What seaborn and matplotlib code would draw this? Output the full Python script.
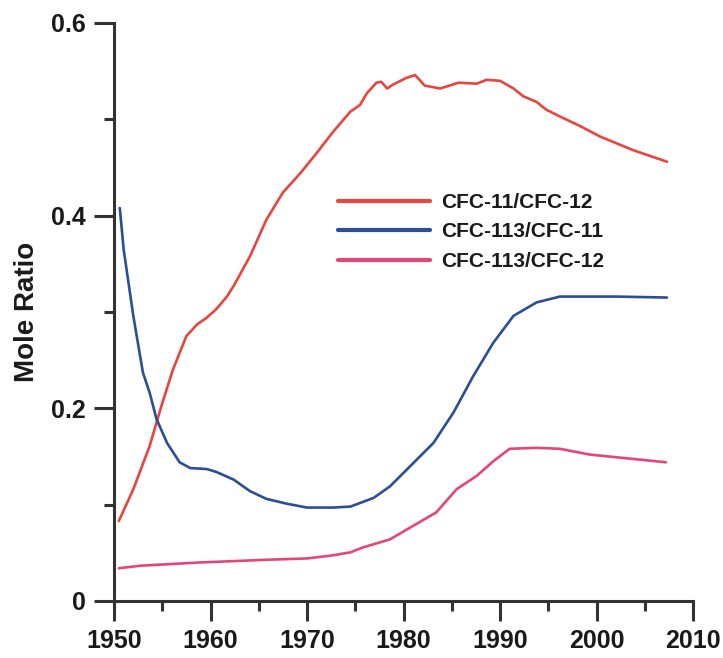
import matplotlib
matplotlib.use("Agg")
import matplotlib.pyplot as plt
import seaborn as sns
import pandas as pd
from matplotlib.ticker import MultipleLocator

# ---- data ----
series_names = ["CFC-11/CFC-12", "CFC-113/CFC-11", "CFC-113/CFC-12"]

red_years = [1950.5, 1952.0, 1953.7, 1954.9, 1956.1, 1957.5, 1958.6, 1959.6, 1960.6,
             1961.7, 1962.4, 1964.1, 1965.8, 1967.5, 1969.3, 1971.0, 1972.7, 1974.5,
             1975.5, 1976.2, 1977.2, 1977.7, 1978.3, 1978.9, 1980.3, 1981.2, 1982.2,
             1983.8, 1985.7, 1987.6, 1988.6, 1990.0, 1991.4, 1992.4, 1993.8, 1994.8,
             1996.2, 1998.3, 2000.4, 2003.8, 2007.3]
red_vals = [0.083, 0.116, 0.161, 0.202, 0.240, 0.275, 0.287, 0.294, 0.303,
            0.316, 0.327, 0.358, 0.396, 0.424, 0.444, 0.465, 0.487, 0.508,
            0.515, 0.527, 0.538, 0.539, 0.532, 0.536, 0.543, 0.546, 0.535,
            0.532, 0.538, 0.537, 0.541, 0.540, 0.532, 0.524, 0.518, 0.510,
            0.503, 0.493, 0.482, 0.468, 0.456]

blue_years = [1950.6, 1951.0, 1952.0, 1953.0, 1953.7, 1954.4, 1955.5, 1956.8, 1957.9,
              1959.6, 1960.6, 1962.4, 1964.1, 1965.8, 1967.9, 1970.0, 1972.7, 1974.5,
              1976.9, 1978.6, 1980.7, 1983.1, 1985.2, 1987.2, 1989.3, 1991.4, 1993.8,
              1996.2, 1999.3, 2002.1, 2007.3]
blue_vals = [0.408, 0.365, 0.296, 0.237, 0.216, 0.189, 0.164, 0.144, 0.138,
             0.137, 0.134, 0.126, 0.114, 0.106, 0.101, 0.097, 0.097, 0.098,
             0.107, 0.119, 0.140, 0.164, 0.196, 0.233, 0.268, 0.296, 0.310,
             0.316, 0.316, 0.316, 0.315]

pink_years = [1950.5, 1952.7, 1958.9, 1965.8, 1970.0, 1972.4, 1974.5, 1975.8, 1978.6,
              1981.0, 1983.4, 1985.5, 1987.6, 1989.3, 1991.0, 1993.8, 1996.2, 1999.3,
              2007.2]
pink_vals = [0.034, 0.0366, 0.040, 0.0428, 0.0442, 0.047, 0.0505, 0.0556, 0.064,
             0.078, 0.092, 0.116, 0.130, 0.145, 0.158, 0.159, 0.158, 0.152,
             0.144]

x_ticks = [1950, 1960, 1970, 1980, 1990, 2000, 2010]
y_ticks = [0, 0.2, 0.4, 0.6]
y_tick_labels = ["0", "0.2", "0.4", "0.6"]

colors = ["#E8453F", "#2B4E96", "#E4457C"]

df = pd.concat([
    pd.DataFrame({"Year": red_years, "Ratio": red_vals, "Series": series_names[0]}),
    pd.DataFrame({"Year": blue_years, "Ratio": blue_vals, "Series": series_names[1]}),
    pd.DataFrame({"Year": pink_years, "Ratio": pink_vals, "Series": series_names[2]}),
], ignore_index=True)

sns.set_theme(style="ticks")
plt.rcParams["font.family"] = ["Liberation Sans", "DejaVu Sans"]
plt.rcParams["font.weight"] = "bold"

fig = plt.figure(figsize=(7.23, 6.58), dpi=100)
ax = fig.add_axes([114 / 723, 1 - 601 / 658, (693 - 114) / 723, (601 - 23) / 658])

sns.lineplot(data=df, x="Year", y="Ratio", hue="Series", hue_order=series_names,
             palette=colors, linewidth=1.9, sort=False, estimator=None, ax=ax,
             legend=True)

ax.set_xlim(1950, 2010)
ax.set_ylim(0, 0.6)
ax.set_xticks(x_ticks)
ax.set_xticklabels([str(t) for t in x_ticks])
ax.set_yticks(y_ticks)
ax.set_yticklabels(y_tick_labels)
ax.xaxis.set_minor_locator(MultipleLocator(5))
ax.yaxis.set_minor_locator(MultipleLocator(0.1))

spine_col = "#333333"
for s in ["top", "right"]:
    ax.spines[s].set_visible(False)
for s in ["left", "bottom"]:
    ax.spines[s].set_linewidth(2.2)
    ax.spines[s].set_color(spine_col)

ax.tick_params(axis="both", which="major", length=14.4, width=2.2, color=spine_col,
               labelsize=18, labelcolor="#1a1a1a", direction="out")
ax.tick_params(axis="both", which="minor", length=7.5, width=2.2, color=spine_col,
               direction="out")
ax.tick_params(axis="x", which="major", pad=6)
ax.tick_params(axis="y", which="major", pad=6)
for lab in ax.get_xticklabels() + ax.get_yticklabels():
    lab.set_fontweight("bold")

ax.set_xlabel("")
ax.set_ylabel("Mole Ratio", fontsize=20, fontweight="bold", color="#1a1a1a", labelpad=8)

handles, labels = ax.get_legend_handles_labels()
leg = ax.legend(handles, labels, loc="upper left",
                bbox_to_anchor=(338 / 723, 1 - 193 / 658),
                bbox_transform=fig.transFigure, frameon=False,
                fontsize=15, handlelength=4.4, handletextpad=0.55,
                labelspacing=0.5, borderpad=0, borderaxespad=0)
for t in leg.get_texts():
    t.set_fontweight("bold")
    t.set_color("#1a1a1a")
for l in leg.get_lines():
    l.set_linewidth(3.0)

fig.savefig("out.png", dpi=100)
